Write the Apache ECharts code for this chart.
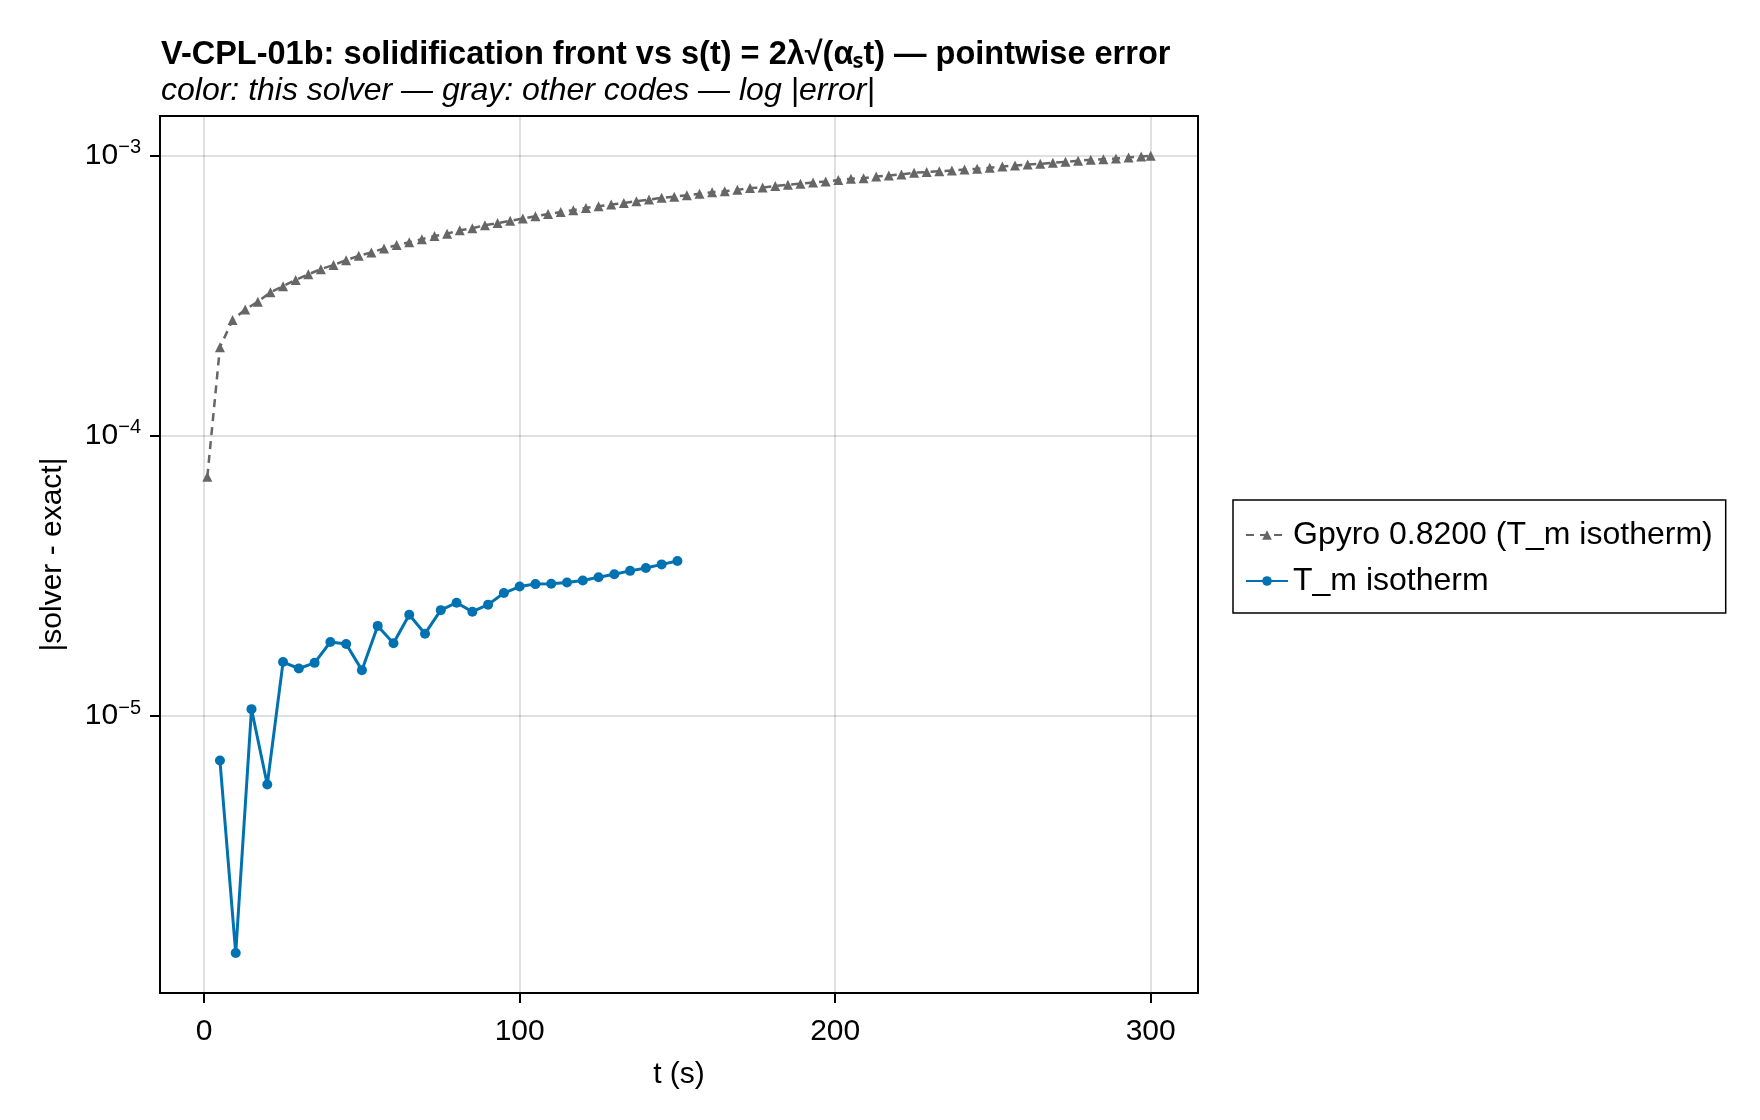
<!DOCTYPE html>
<html lang="en">

<head>
    <meta charset="UTF-8">
    <title>V-CPL-01b pointwise error</title>
    <script src="https://cdn.jsdelivr.net/npm/echarts@6/dist/echarts.min.js"></script>
    <style>
        html, body { margin: 0; padding: 0; background: #fff; }
        #chart { width: 1760px; height: 1120px; }
    </style>
</head>

<body>
    <div id="chart"></div>

    <script>
        // Gpyro reference curve (gray, dashed + triangles)
        const gpyroT = [1, 5, 9, 13, 17, 21, 25, 29, 33, 37, 41, 45, 49, 53, 57, 61, 65, 69, 73, 77,
            81, 85, 89, 93, 97, 101, 105, 109, 113, 117, 121, 125, 129, 133, 137, 141, 145, 149, 153, 157,
            161, 165, 169, 173, 177, 181, 185, 189, 193, 197, 201, 205, 209, 213, 217, 221, 225, 229, 233, 237,
            241, 245, 249, 253, 257, 261, 265, 269, 273, 277, 281, 285, 289, 293, 297, 300];
        const gpyroErr = [7.14e-5, 2.07e-4, 2.59e-4, 2.82e-4, 3.01e-4, 3.25e-4, 3.42e-4, 3.60e-4, 3.77e-4, 3.93e-4,
            4.07e-4, 4.23e-4, 4.39e-4, 4.51e-4, 4.66e-4, 4.79e-4, 4.90e-4, 5.03e-4, 5.16e-4, 5.26e-4,
            5.41e-4, 5.50e-4, 5.64e-4, 5.74e-4, 5.85e-4, 5.96e-4, 6.07e-4, 6.18e-4, 6.29e-4, 6.38e-4,
            6.50e-4, 6.59e-4, 6.68e-4, 6.77e-4, 6.87e-4, 6.96e-4, 7.06e-4, 7.13e-4, 7.21e-4, 7.31e-4,
            7.40e-4, 7.46e-4, 7.54e-4, 7.65e-4, 7.69e-4, 7.78e-4, 7.86e-4, 7.93e-4, 8.01e-4, 8.08e-4,
            8.17e-4, 8.26e-4, 8.30e-4, 8.42e-4, 8.49e-4, 8.56e-4, 8.68e-4, 8.73e-4, 8.79e-4, 8.84e-4,
            8.92e-4, 8.96e-4, 9.04e-4, 9.14e-4, 9.21e-4, 9.29e-4, 9.34e-4, 9.42e-4, 9.49e-4, 9.57e-4,
            9.65e-4, 9.70e-4, 9.75e-4, 9.84e-4, 9.92e-4, 9.97e-4];

        // this solver (blue, T_m isotherm)
        const solverT = [5, 10, 15, 20, 25, 30, 35, 40, 45, 50, 55, 60, 65, 70, 75, 80, 85, 90, 95, 100,
            105, 110, 115, 120, 125, 130, 135, 140, 145, 150];
        const solverErr = [6.95e-6, 1.43e-6, 1.06e-5, 5.71e-6, 1.56e-5, 1.48e-5, 1.55e-5, 1.84e-5, 1.81e-5, 1.46e-5,
            2.10e-5, 1.82e-5, 2.30e-5, 1.97e-5, 2.39e-5, 2.54e-5, 2.36e-5, 2.50e-5, 2.75e-5, 2.90e-5,
            2.96e-5, 2.97e-5, 3.00e-5, 3.05e-5, 3.13e-5, 3.21e-5, 3.30e-5, 3.38e-5, 3.48e-5, 3.58e-5];

        const xTicks = [0, 100, 200, 300];
        const xRange = [-14, 315];
        const yRange = [1.03e-6, 1.383e-3];
        const seriesNames = ['Gpyro 0.8200 (T_m isotherm)', 'T_m isotherm'];

        const FONT = '"Liberation Sans", Arial, sans-serif';
        const zip = (xs, ys) => xs.map((x, i) => [x, ys[i]]);

        const chart = echarts.init(document.getElementById('chart'), null, { renderer: 'canvas' });

        const frameLine = { show: true, onZero: false, lineStyle: { color: '#000', width: 2 } };
        const tickStyle = { show: true, inside: false, length: 10, lineStyle: { color: '#000', width: 2 } };
        const gridLine = { show: true, lineStyle: { color: 'rgba(0,0,0,0.12)', width: 2 } };

        const option = {
            backgroundColor: '#fff',
            animation: false,
            title: {
                text: 'V-CPL-01b: solidification front vs s(t) = 2λ√(αₛt) — pointwise error',
                subtext: 'color: this solver — gray: other codes — log |error|',
                left: 156,
                top: 32,
                itemGap: 0,
                textStyle: { fontFamily: FONT, fontSize: 32.5, fontWeight: 'bold', color: '#000', lineHeight: 36 },
                subtextStyle: { fontFamily: FONT, fontSize: 32, fontStyle: 'italic', color: '#000', lineHeight: 36 }
            },
            legend: {
                orient: 'vertical',
                left: 1233,
                top: 500,
                padding: [17, 13, 14, 12],
                itemGap: 10,
                itemWidth: 42,
                itemHeight: 12,
                borderColor: '#000',
                borderWidth: 1.5,
                data: seriesNames,
                textStyle: { fontFamily: FONT, fontSize: 32, color: '#000', lineHeight: 36 }
            },
            grid: {
                left: 160,
                top: 116,
                width: 1038,
                height: 877,
                show: false
            },
            xAxis: [
                {
                    type: 'value',
                    position: 'bottom',
                    min: xRange[0],
                    max: xRange[1],
                    splitNumber: 3,
                    name: 't (s)',
                    nameLocation: 'middle',
                    nameGap: 67,
                    nameTextStyle: { fontFamily: FONT, fontSize: 30, color: '#000' },
                    axisLine: frameLine,
                    axisTick: Object.assign({ customValues: xTicks }, tickStyle),
                    axisLabel: { customValues: xTicks, margin: 24, fontFamily: FONT, fontSize: 30, color: '#000' },
                    splitLine: gridLine
                },
                {
                    // top spine only
                    type: 'value',
                    position: 'top',
                    min: xRange[0],
                    max: xRange[1],
                    axisLine: frameLine,
                    axisTick: { show: false },
                    axisLabel: { show: false },
                    splitLine: { show: false }
                }
            ],
            yAxis: [
                {
                    type: 'log',
                    logBase: 10,
                    position: 'left',
                    min: yRange[0],
                    max: yRange[1],
                    name: '|solver - exact|',
                    nameLocation: 'middle',
                    nameGap: 92,
                    nameTextStyle: { fontFamily: FONT, fontSize: 30, color: '#000' },
                    axisLine: frameLine,
                    axisTick: tickStyle,
                    axisLabel: {
                        margin: 19,
                        showMinLabel: false,
                        showMaxLabel: false,
                        formatter: function (v) {
                            const e = Math.log10(v);
                            const r = Math.round(e);
                            if (Math.abs(e - r) > 1e-6) return '';
                            return '{b|10}{s|' + (r < 0 ? '\u2212' + (-r) : r) + '}';
                        },
                        rich: {
                            b: { fontFamily: FONT, fontSize: 30, color: '#000', lineHeight: 36 },
                            s: { fontFamily: FONT, fontSize: 20, color: '#000', verticalAlign: 'top', lineHeight: 22 }
                        }
                    },
                    splitLine: gridLine
                },
                {
                    // right spine only
                    type: 'log',
                    logBase: 10,
                    position: 'right',
                    min: yRange[0],
                    max: yRange[1],
                    axisLine: frameLine,
                    axisTick: { show: false },
                    axisLabel: { show: false },
                    splitLine: { show: false }
                }
            ],
            series: [
                {
                    name: seriesNames[0],
                    type: 'line',
                    data: zip(gpyroT, gpyroErr),
                    symbol: 'triangle',
                    symbolSize: 10,
                    showAllSymbol: true,
                    itemStyle: { color: '#666666' },
                    lineStyle: { color: '#666666', width: 2.5, type: [8, 6] },
                    z: 2
                },
                {
                    name: seriesNames[1],
                    type: 'line',
                    data: zip(solverT, solverErr),
                    symbol: 'circle',
                    symbolSize: 10,
                    showAllSymbol: true,
                    itemStyle: { color: '#0072B2' },
                    lineStyle: { color: '#0072B2', width: 3 },
                    z: 3
                }
            ]
        };

        chart.setOption(option);
    </script>
</body>

</html>
